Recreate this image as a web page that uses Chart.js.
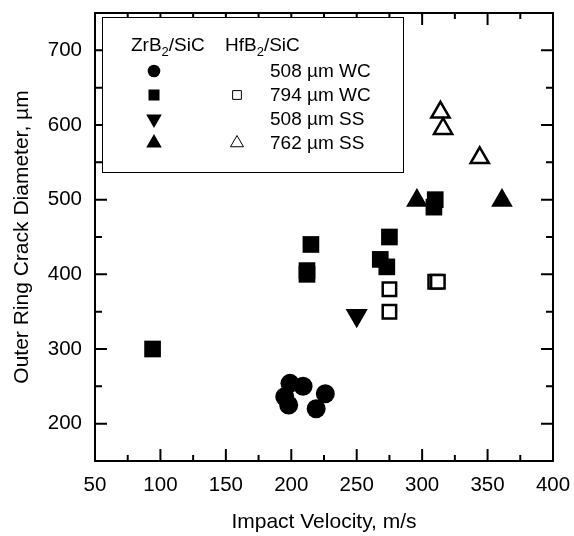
<!DOCTYPE html>
<html>
<head>
<meta charset="utf-8">
<script src="https://cdn.jsdelivr.net/npm/chart.js@4/dist/chart.umd.min.js"></script>
<style>
  html, body { margin: 0; padding: 0; background: #fff; }
  #wrap { width: 574px; height: 536px; }
</style>
</head>
<body>
<div id="wrap"><canvas id="crackChart" width="574" height="536"></canvas></div>
<script>
// tick labels
const xTickLabels = [50, 100, 150, 200, 250, 300, 350, 400];
const yTickLabels = [200, 300, 400, 500, 600, 700];

// ZrB2/SiC, 508 um WC (filled circles)
const zr508wcX = [199, 209, 195, 198, 226, 219];
const zr508wcY = [254, 250, 236, 225, 240, 220];

// ZrB2/SiC, 794 um WC (filled squares)
const zr794wcX = [94, 215, 212, 212, 275, 268, 273, 310, 309];
const zr794wcY = [300, 440, 405, 400, 450, 420, 410, 500, 490];

// HfB2/SiC, 794 um WC (open squares)
const hf794wcX = [275, 275, 310, 312];
const hf794wcY = [380, 350, 390, 390];

// ZrB2/SiC, 508 um SS (filled down triangle)
const zr508ssX = [250];
const zr508ssY = [345];

// ZrB2/SiC, 762 um SS (filled triangles)
const zr762ssX = [296, 361];
const zr762ssY = [499, 499];

// HfB2/SiC, 762 um SS (open triangles)
const hf762ssX = [314, 316, 344];
const hf762ssY = [617, 595, 556];

const FONT = "'Liberation Sans', Arial, Helvetica, sans-serif";

function toPoints(xs, ys) {
    return xs.map((x, i) => ({ x: x, y: ys[i] }));
}

// frame, inward ticks on all four sides, and the boxed legend
const framePlugin = {
    id: "framePlugin",
    afterDraw(chart) {
        const ctx = chart.ctx;
        const ca = chart.chartArea;
        const xs = chart.scales.x;
        const ys = chart.scales.y;
        ctx.save();
        ctx.strokeStyle = "#000";
        ctx.lineWidth = 2;
        ctx.strokeRect(ca.left, ca.top, ca.right - ca.left, ca.bottom - ca.top);

        ctx.beginPath();
        for (let v = 50; v <= 400; v += 25) {
            const px = xs.getPixelForValue(v);
            const len = (v % 50 === 0) ? 12 : 6;
            ctx.moveTo(px, ca.bottom);
            ctx.lineTo(px, ca.bottom - len);
            ctx.moveTo(px, ca.top);
            ctx.lineTo(px, ca.top + len);
        }
        for (let v = 150; v <= 750; v += 50) {
            const py = ys.getPixelForValue(v);
            const len = (v % 100 === 0) ? 12 : 7;
            ctx.moveTo(ca.left, py);
            ctx.lineTo(ca.left + len, py);
            ctx.moveTo(ca.right, py);
            ctx.lineTo(ca.right - len, py);
        }
        ctx.stroke();

        // legend box
        const lx = ca.left + 7, ly = ca.top + 4, lw = 301, lh = 155;
        ctx.fillStyle = "#fff";
        ctx.fillRect(lx, ly, lw, lh);
        ctx.lineWidth = 1;
        ctx.strokeRect(lx + 0.5, ly + 0.5, lw, lh);

        ctx.fillStyle = "#000";
        ctx.textBaseline = "alphabetic";
        function subLabel(x, y, a, sub, b) {
            ctx.font = "19px " + FONT;
            ctx.fillText(a, x, y);
            let w = ctx.measureText(a).width;
            ctx.font = "13px " + FONT;
            ctx.fillText(sub, x + w, y + 5);
            w += ctx.measureText(sub).width;
            ctx.font = "19px " + FONT;
            ctx.fillText(b, x + w, y);
        }
        subLabel(lx + 29, ly + 34, "ZrB", "2", "/SiC");
        subLabel(lx + 123, ly + 34, "HfB", "2", "/SiC");

        const rows = [
            { text: "508 \u00b5m WC", zr: { pointStyle: "circle", radius: 6.3 }, hf: null },
            { text: "794 \u00b5m WC", zr: { pointStyle: "rect", radius: 7.8 }, hf: { pointStyle: "rect", radius: 6.2, open: true } },
            { text: "508 \u00b5m SS", zr: { pointStyle: "triangle", radius: 9, rotation: 180 }, hf: null },
            { text: "762 \u00b5m SS", zr: { pointStyle: "triangle", radius: 9 }, hf: { pointStyle: "triangle", radius: 7.5, open: true } }
        ];
        const rowY = [54, 78, 102, 126];
        ctx.font = "19px " + FONT;
        ctx.textBaseline = "middle";
        rows.forEach((r, i) => {
            const y = ly + rowY[i];
            ctx.fillStyle = "#000";
            ctx.fillText(r.text, lx + 168, y + 1);
            [[r.zr, lx + 52], [r.hf, lx + 135]].forEach(([m, x]) => {
                if (!m) return;
                ctx.fillStyle = m.open ? "#fff" : "#000";
                ctx.strokeStyle = "#000";
                Chart.helpers.drawPoint(ctx, {
                    pointStyle: m.pointStyle,
                    radius: m.radius,
                    rotation: m.rotation || 0,
                    borderWidth: m.open ? 2.2 : 0
                }, x, y);
            });
        });
        ctx.restore();
    }
};

function makeSet(label, xs, ys, style, radius, open, rotation) {
    return {
        label: label,
        data: toPoints(xs, ys),
        pointStyle: style,
        pointRadius: radius,
        pointHoverRadius: radius,
        pointRotation: rotation || 0,
        backgroundColor: open ? "#fff" : "#000",
        borderColor: "#000",
        borderWidth: open ? 2.5 : 0,
        showLine: false
    };
}

new Chart(document.getElementById("crackChart"), {
    type: "scatter",
    data: {
        datasets: [
            makeSet("ZrB2/SiC 508 \u00b5m WC", zr508wcX, zr508wcY, "circle", 9.5, false),
            makeSet("ZrB2/SiC 794 \u00b5m WC", zr794wcX, zr794wcY, "rect", 11.8, false),
            makeSet("HfB2/SiC 794 \u00b5m WC", hf794wcX, hf794wcY, "rect", 9.5, true),
            makeSet("ZrB2/SiC 508 \u00b5m SS", zr508ssX, zr508ssY, "triangle", 12.8, false, 180),
            makeSet("ZrB2/SiC 762 \u00b5m SS", zr762ssX, zr762ssY, "triangle", 12.5, false),
            makeSet("HfB2/SiC 762 \u00b5m SS", hf762ssX, hf762ssY, "triangle", 10.5, true)
        ]
    },
    options: {
        responsive: false,
        animation: false,
        devicePixelRatio: 1,
        layout: { padding: { top: 12, right: 21, left: 0, bottom: 0 } },
        plugins: {
            legend: { display: false },
            tooltip: { enabled: false }
        },
        scales: {
            x: {
                type: "linear",
                min: 50,
                max: 400,
                afterBuildTicks: s => { s.ticks = xTickLabels.map(v => ({ value: v })); },
                afterFit: s => { s.height = 75; s.paddingLeft = 0; s.paddingRight = 0; },
                grid: { display: false, drawTicks: false },
                border: { display: false },
                ticks: { color: "#000", padding: 12, maxRotation: 0, font: { family: FONT, size: 20.5 } },
                title: {
                    display: true,
                    text: "Impact Velocity, m/s",
                    color: "#000",
                    padding: { top: 0, bottom: 1 },
                    font: { family: FONT, size: 21 }
                }
            },
            y: {
                type: "linear",
                min: 150,
                max: 750,
                afterBuildTicks: s => { s.ticks = yTickLabels.map(v => ({ value: v })); },
                afterFit: s => { s.width = 95; s.paddingTop = 0; s.paddingBottom = 0; },
                grid: { display: false, drawTicks: false },
                border: { display: false },
                ticks: { color: "#000", padding: 13, font: { family: FONT, size: 20.5 } },
                title: {
                    display: true,
                    text: "Outer Ring Crack Diameter, \u00b5m",
                    color: "#000",
                    padding: { top: 10, bottom: 0 },
                    font: { family: FONT, size: 21 }
                }
            }
        }
    },
    plugins: [framePlugin]
});
</script>
</body>
</html>
